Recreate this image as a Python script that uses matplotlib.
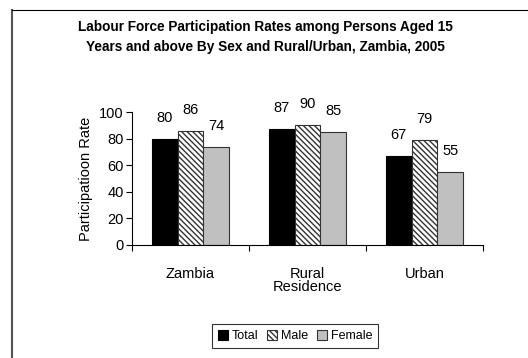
import matplotlib
matplotlib.use("Agg")
import matplotlib.pyplot as plt
from matplotlib.lines import Line2D
import numpy as np

categories = ["Zambia", "Rural\nResidence", "Urban"]
total = [80, 87, 67]
male = [86, 90, 79]
female = [74, 85, 55]
series_names = ["Total", "Male", "Female"]
yticks = [0, 20, 40, 60, 80, 100]

plt.rcParams['font.family'] = ['Liberation Sans', 'DejaVu Sans']
plt.rcParams['hatch.linewidth'] = 1.0

fig = plt.figure(figsize=(5.28, 3.58), dpi=100)
ax = fig.add_axes([132/528, 1-245/358, (483-132)/528, (245-112)/358])

x = np.arange(len(categories))
w = 0.222
styles = [dict(color="black", edgecolor="black"),
          dict(color="white", edgecolor="#333333", hatch="\\\\\\\\\\\\"),
          dict(color="#C0C0C0", edgecolor="#333333")]
for i, (vals, name, st) in enumerate(zip([total, male, female], series_names, styles)):
    bars = ax.bar(x + (i-1)*w, vals, w, label=name, linewidth=0.8, **st)
    for b, v in zip(bars, vals):
        ax.annotate(f"{v}", (b.get_x()+b.get_width()/2, v), xytext=(0, 10), textcoords="offset points",
                    ha="center", va="bottom", fontsize=10.5, annotation_clip=False)

ax.set_xlim(-0.5, 2.5)
ax.set_ylim(0, 100)
ax.set_yticks(yticks)
ax.set_yticklabels([str(t) for t in yticks], fontsize=10.5)
ax.set_xticks([-0.5, 0.5, 1.5, 2.5])
ax.set_xticklabels([])
ax.set_xticks(x, minor=True)
ax.set_xticklabels(categories, minor=True, fontsize=10.5, linespacing=0.9)
ax.tick_params(axis='x', which='minor', length=0, pad=16)
ax.tick_params(axis='x', which='major', length=4, direction='out', width=0.8)
ax.tick_params(axis='y', length=4, direction='out', width=0.8, pad=2)
for s in ["top", "right"]:
    ax.spines[s].set_visible(False)
ax.set_ylabel("Participatioon Rate", fontsize=10.5, labelpad=4)

fig.text(265/528, 1-37/358, "Labour Force Participation Rates among Persons Aged 15\nYears and above By Sex and Rural/Urban, Zambia, 2005",
         ha="center", va="center", fontsize=9.8, fontweight="bold", linespacing=1.5)

leg = fig.legend(loc="center", bbox_to_anchor=(295/528, 1-336/358), ncol=3, fontsize=9,
                 frameon=True, fancybox=False, edgecolor="black", handlelength=0.8, handleheight=0.8,
                 handletextpad=0.3, columnspacing=0.7, borderpad=0.45)
leg.get_frame().set_linewidth(0.8)

fig.add_artist(Line2D([12/528, 12/528], [0, 1-10/358], transform=fig.transFigure, color="#555555", lw=1.5))
fig.add_artist(Line2D([12/528, 1], [1-10/358, 1-10/358], transform=fig.transFigure, color="black", lw=0.8))

fig.savefig("out.png", dpi=100)
